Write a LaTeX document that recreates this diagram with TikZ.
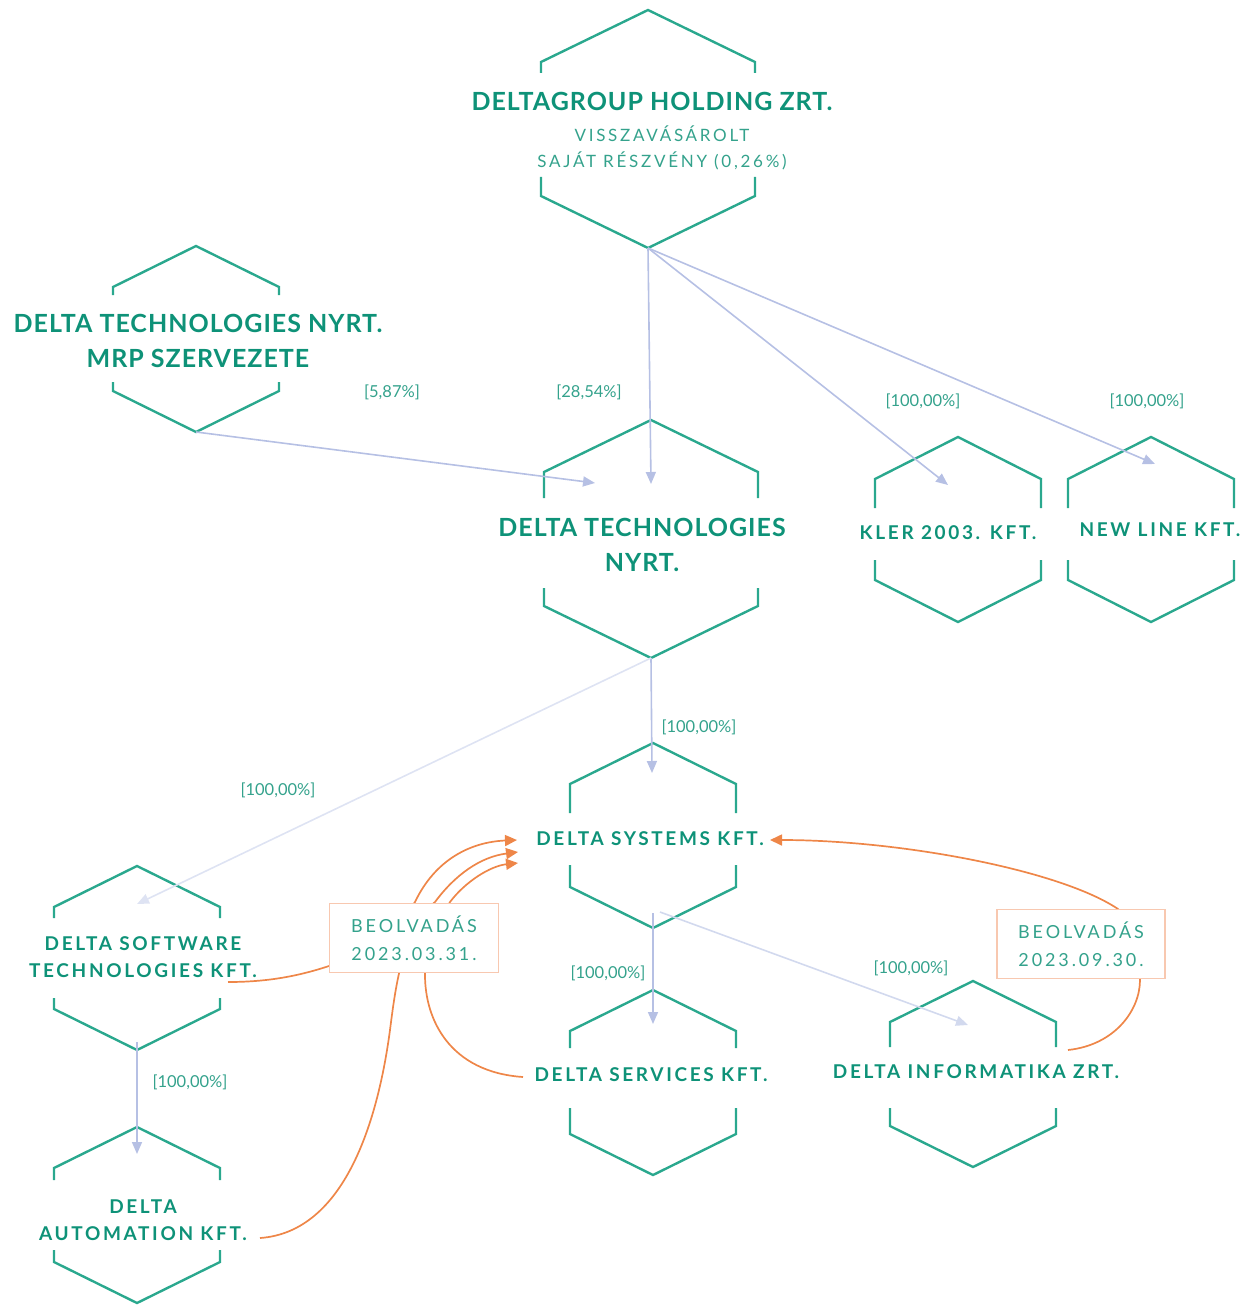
\documentclass[tikz,border=0pt]{standalone}
\usepackage{fontspec}
\setmainfont{Lato}
\newfontfamily\namefont[LetterSpace=4]{Lato}
\newfontfamily\midfont[LetterSpace=14]{Lato}
\newfontfamily\spacedfont[LetterSpace=16]{Lato}
\usetikzlibrary{arrows.meta}
\definecolor{hexteal}{RGB}{42,168,142}
\definecolor{textteal}{RGB}{14,146,120}
\definecolor{pctteal}{RGB}{52,162,140}
\definecolor{ownline}{RGB}{182,192,228}
\definecolor{ownpale}{RGB}{222,227,243}
\definecolor{mergeline}{RGB}{238,134,72}
\definecolor{mergebox}{RGB}{248,200,176}
\tikzset{
    hexline/.style = {draw=hexteal, line width=2.4pt, line join=miter},
    tname/.style = {align=center, inner sep=0pt, text centered, text=textteal},
    bigname/.style = {tname, font=\namefont\bfseries\fontsize{25}{35}\selectfont},
    midname/.style = {tname, font=\midfont\bfseries\fontsize{19}{27}\selectfont},
    subname/.style = {tname, text=pctteal, font=\spacedfont\fontsize{17}{26}\selectfont},
    pct/.style = {inner sep=0pt, text=pctteal, font=\fontsize{16.5}{20}\selectfont},
    own/.style = {draw=ownline, line width=1.6pt, -{Triangle[length=12pt,width=10pt]}},
    ownfaint/.style = {own, draw=ownpale},
    merge/.style = {draw=mergeline, line width=1.7pt, -{Triangle[length=12pt,width=11pt]}},
    mergenote/.style = {draw=mergebox, fill=white, line width=1.5pt, align=center, text=pctteal,
        font=\spacedfont\fontsize{18}{28}\selectfont, minimum height=69pt, inner sep=0pt}
}
% #1 name, #2 centre x, #3 top, #4 end of upper stub, #5 start of lower stub, #6 bottom, #7 half width, #8 shoulder drop
\newcommand\hexcell[8]{%
    \draw[hexline] ({#2-#7},#4) -- ({#2-#7},{#3+#8}) -- (#2,#3) -- ({#2+#7},{#3+#8}) -- ({#2+#7},#4);
    \draw[hexline] ({#2-#7},#5) -- ({#2-#7},{#6-#8}) -- (#2,#6) -- ({#2+#7},{#6-#8}) -- ({#2+#7},#5);
    \coordinate (#1-top) at (#2,#3);
    \coordinate (#1-bot) at (#2,#6);
}

\begin{document}
\begin{tikzpicture}[x=1pt, y=-1pt]
    \useasboundingbox (0,0) rectangle (1251,1308);

    \hexcell{holding}{648}{10}{73}{177}{248}{107}{52}
    \hexcell{mrp}{196}{246}{295}{382}{432}{83}{41}
    \hexcell{dtn}{651}{420}{498}{588}{658}{107}{52}
    \hexcell{kler}{958}{437}{508}{560}{622}{83}{42}
    \hexcell{newline}{1151}{437}{508}{560}{622}{83}{42}
    \hexcell{systems}{653}{743}{813}{865}{928}{83}{41}
    \hexcell{services}{653}{990}{1048}{1108}{1175}{83}{41}
    \hexcell{informatika}{973}{981}{1047}{1108}{1167}{83}{41}
    \hexcell{software}{137}{866}{918}{998}{1050}{83}{41}
    \hexcell{automation}{137}{1127}{1180}{1250}{1303}{83}{41}

    \node[bigname] (holding) at (652,101) {DELTAGROUP HOLDING ZRT.};
    \node[subname] (holding-sub) at (662,148) {VISSZAVÁSÁROLT\\SAJÁT RÉSZVÉNY (0,26\%)};
    \node[bigname] (mrp) at (198,341) {DELTA TECHNOLOGIES NYRT.\\MRP SZERVEZETE};
    \node[bigname] (dtn) at (642,545) {DELTA TECHNOLOGIES\\NYRT.};
    \node[midname] (kler) at (948,533) {KLER 2003. KFT.};
    \node[midname] (newline) at (1160,530) {NEW LINE KFT.};
    \node[midname] (systems) at (650,839) {DELTA SYSTEMS KFT.};
    \node[midname] (software) at (143,957) {DELTA SOFTWARE\\TECHNOLOGIES KFT.};
    \node[midname] (services) at (651,1075) {DELTA SERVICES KFT.};
    \node[midname] (informatika) at (976,1072) {DELTA INFORMATIKA ZRT.};
    \node[midname] (automation) at (143,1220) {DELTA\\AUTOMATION KFT.};

    \coordinate (dtn-tip) at (651,484);
    \coordinate (dtn-tip2) at (595,483);
    \coordinate (kler-tip) at (948,485);
    \coordinate (newline-tip) at (1155,464);
    \coordinate (systems-tip) at (652,773);
    \coordinate (software-tip) at (137,904);
    \coordinate (software-out) at (137,1042);
    \coordinate (automation-tip) at (137,1154);
    \coordinate (systems-out) at (653,913);
    \coordinate (systems-out2) at (660,912);
    \coordinate (services-tip) at (653,1024);
    \coordinate (informatika-tip) at (968,1025);

    \draw[own] (holding-bot) -- (dtn-tip);
    \draw[own] (holding-bot) -- (kler-tip);
    \draw[own] (holding-bot) -- (newline-tip);
    \draw[own] (mrp-bot) -- (dtn-tip2);
    \draw[own] (dtn-bot) -- (systems-tip);
    \draw[ownfaint] (dtn-bot) -- (software-tip);
    \draw[own] (software-out) -- (automation-tip);
    \draw[own] (systems-out) -- (services-tip);
    \draw[own, draw=ownpale!70!ownline] (systems-out2) -- (informatika-tip);

    \node[pct] (pct-mrp) at (392,392) {[5,87\%]};
    \node[pct] (pct-dtn) at (589,392) {[28,54\%]};
    \node[pct] (pct-kler) at (923,401) {[100,00\%]};
    \node[pct] (pct-newline) at (1147,401) {[100,00\%]};
    \node[pct] (pct-systems) at (699,727) {[100,00\%]};
    \node[pct] (pct-software) at (278,790) {[100,00\%]};
    \node[pct] (pct-services) at (608,973) {[100,00\%]};
    \node[pct] (pct-informatika) at (911,968) {[100,00\%]};
    \node[pct] (pct-automation) at (190,1082) {[100,00\%]};

    \coordinate (software-merge) at (228,982);
    \coordinate (automation-merge) at (260,1238);
    \coordinate (services-merge) at (523,1077);
    \coordinate (informatika-merge) at (1068,1050);
    \coordinate (systems-in1) at (517,840);
    \coordinate (systems-in2) at (518,852);
    \coordinate (systems-in3) at (518,863);
    \coordinate (systems-in4) at (770,840);

    \draw[merge] (software-merge) .. controls (280,982) and (320,972) .. (370,950)
        .. controls (400,935) and (405,915) .. (415,902)
        .. controls (435,860) and (470,842) .. (systems-in1);
    \draw[merge] (automation-merge) .. controls (345,1232) and (378,1120) .. (390,1030)
        .. controls (395,990) and (398,975) .. (405,950)
        .. controls (415,925) and (425,910) .. (435,902)
        .. controls (455,875) and (480,857) .. (systems-in2);
    \draw[merge] (services-merge) .. controls (450,1072) and (425,1020) .. (425,975)
        .. controls (425,950) and (440,920) .. (450,902)
        .. controls (465,882) and (490,866) .. (systems-in3);
    \draw[merge] (informatika-merge) .. controls (1115,1045) and (1140,1010) .. (1140,980)
        .. controls (1140,950) and (1130,925) .. (1118,909)
        .. controls (1060,870) and (900,840) .. (systems-in4);

    \node[mergenote, minimum width=169pt] (merge-march) at (414,938) {BEOLVADÁS\\2023.03.31.};
    \node[mergenote, minimum width=168pt] (merge-sept) at (1081,944) {BEOLVADÁS\\2023.09.30.};
\end{tikzpicture}
\end{document}
